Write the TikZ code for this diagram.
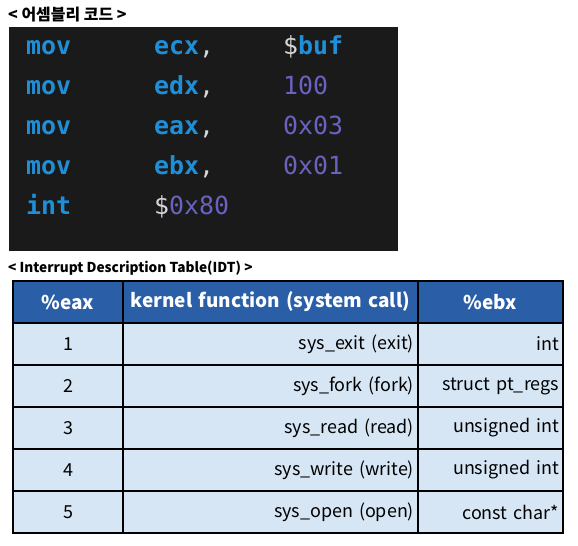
\documentclass[tikz,border=0pt]{standalone}
\usepackage{fontspec}
\setmainfont{Noto Sans CJK KR}
\newfontfamily\codefont{DejaVu Sans Mono}
\usetikzlibrary{positioning}

\definecolor{codebg}{HTML}{1A1A1A}
\definecolor{kwblue}{HTML}{1F8FD8}
\definecolor{numpurple}{HTML}{6A62C0}
\definecolor{symgray}{HTML}{D6D6D6}
\definecolor{headblue}{HTML}{2A5FA8}
\definecolor{cellblue}{HTML}{D6E6F4}

\newcommand\cmma{{\color{symgray}\mdseries,}}
\newcommand\dsign{{\color{symgray}\mdseries\$}}

\begin{document}
\begin{tikzpicture}[
	x=1bp, y=-1bp, node distance=0pt,
	tok/.style={anchor=base west,inner sep=0pt,font=\codefont\bfseries\fontsize{25}{25}\selectfont},
	kw/.style={text=kwblue},
	num/.style={text=numpurple,font=\codefont\fontsize{25}{25}\selectfont},
	caption/.style={anchor=west,inner sep=0pt,font=\bfseries\fontsize{13.7}{14}\selectfont},
	cell/.style={draw,line width=1.5bp,fill=cellblue,outer sep=0pt,inner xsep=4bp,inner ysep=0pt,
		minimum height=42bp,font=\fontsize{18}{18}\selectfont},
	head/.style={cell,fill=headblue,text=white,font=\bfseries\fontsize{19}{19}\selectfont},
	colA/.style={text width=102bp,align=center},
	colB/.style={text width=287bp,align=right},
	colC/.style={text width=137bp,align=right}
	]
	\useasboundingbox (0,0) rectangle (578,546);
	% assembly code
	\node [caption,font=\bfseries\fontsize{16}{16}\selectfont] (asmtitle) at (8,15) {< 어셈블리 코드 >};
	\fill [codebg] (9,27) rectangle (398,251);
	\node [tok,kw] (op1) at (26,55) {mov};
	\node [tok,kw] (reg1) at (154,55) {ecx\cmma};
	\node [tok,kw] (arg1) at (283,55) {\dsign buf};
	\node [tok,kw] (op2) at (26,95) {mov};
	\node [tok,kw] (reg2) at (154,95) {edx\cmma};
	\node [tok,num] (arg2) at (283,95) {100};
	\node [tok,kw] (op3) at (26,135) {mov};
	\node [tok,kw] (reg3) at (154,135) {eax\cmma};
	\node [tok,num] (arg3) at (283,135) {0x03};
	\node [tok,kw] (op4) at (26,175) {mov};
	\node [tok,kw] (reg4) at (154,175) {ebx\cmma};
	\node [tok,num] (arg4) at (283,175) {0x01};
	\node [tok,kw] (op5) at (26,215) {int};
	\node [tok,num] (reg5) at (154,215) {\dsign 0x80};
	% IDT table
	\node [caption] (idttitle) at (8,268) {< Interrupt Description Table(IDT) >};
	\node [head,colA,anchor=north west] (h1) at (13,281) {\%eax};
	\node [head,colB,align=center,right=of h1] (h2) {kernel function (system call)};
	\node [head,colC,align=center,right=of h2] (h3) {\%ebx};
	\node [cell,colA,below=of h1] (a1) {1};
	\node [cell,colB,right=of a1] (b1) {sys\_exit (exit)};
	\node [cell,colC,right=of b1] (c1) {int};
	\node [cell,colA,below=of a1] (a2) {2};
	\node [cell,colB,right=of a2] (b2) {sys\_fork (fork)};
	\node [cell,colC,right=of b2] (c2) {struct pt\_regs};
	\node [cell,colA,below=of a2] (a3) {3};
	\node [cell,colB,right=of a3] (b3) {sys\_read (read)};
	\node [cell,colC,right=of b3] (c3) {unsigned int};
	\node [cell,colA,below=of a3] (a4) {4};
	\node [cell,colB,right=of a4] (b4) {sys\_write (write)};
	\node [cell,colC,right=of b4] (c4) {unsigned int};
	\node [cell,colA,below=of a4] (a5) {5};
	\node [cell,colB,right=of a5] (b5) {sys\_open (open)};
	\node [cell,colC,right=of b5] (c5) {const char*};
\end{tikzpicture}
\end{document}
